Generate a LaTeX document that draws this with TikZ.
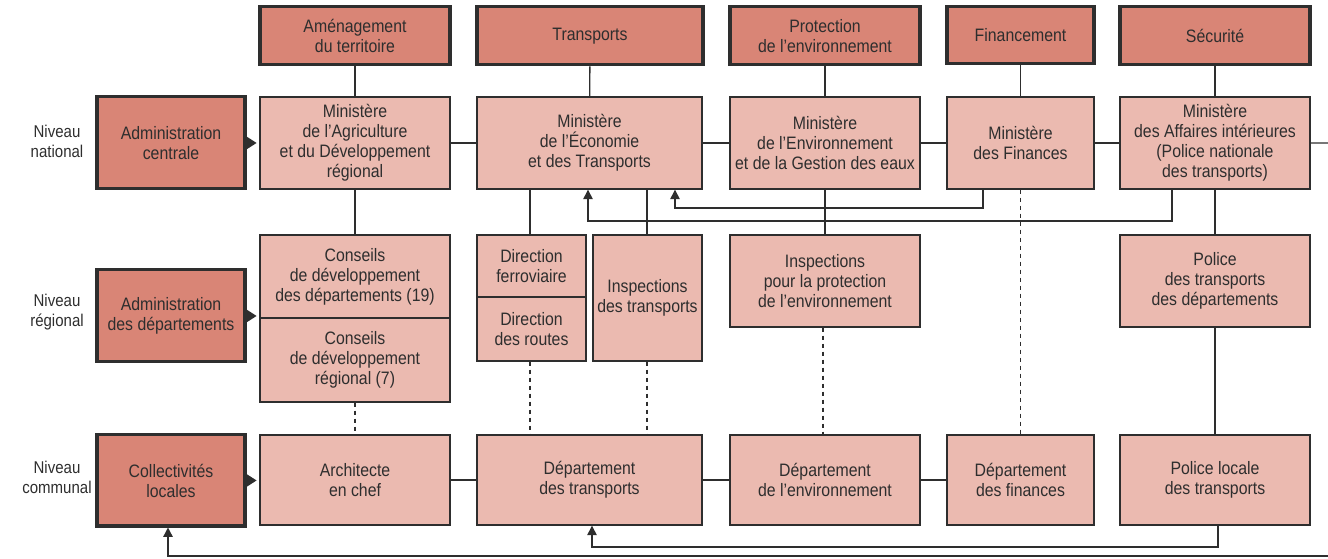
\documentclass[tikz,border=0pt]{standalone}
\usepackage{fontspec}
\setmainfont{Liberation Sans}[FakeStretch=0.88]
\usetikzlibrary{arrows.meta}
\definecolor{dk}{HTML}{D98576}
\definecolor{lt}{HTML}{EBBAB0}
\definecolor{ln}{HTML}{2E2E2E}
\tikzset{
 base/.style={draw=ln, align=center, text=ln, inner sep=0pt, font=\fontsize{13.5}{15}\selectfont},
 lbox/.style={base, fill=lt, line width=1.1pt},
 dbox/.style={base, fill=dk, line width=2.3pt},
 conn/.style={draw=ln, line width=1pt},
 dsh/.style={conn, dash pattern=on 3pt off 3pt},
 arr/.style={conn, -{Triangle[length=7pt,width=7pt]}},
 larr/.style={conn, -{Triangle[length=8pt,width=10pt]}, shorten >=2pt},
 lvl/.style={text=ln, align=center, font=\fontsize{12.8}{15}\selectfont}
}
\newcommand\mkbox[7]{%
 \pgfmathsetmacro\bcx{(#3+#5)/2}\pgfmathsetmacro\bcy{(#4+#6)/2-1.5}%
 \pgfmathsetmacro\bxw{(#5-#3)*0.75}\pgfmathsetmacro\bxh{(#6-#4)*0.75}%
 \node[#1, minimum width=\bxw pt, minimum height=\bxh pt, yshift=-1.1pt] (#2) at (\bcx,\bcy) {#7};}
\begin{document}
\begin{tikzpicture}[x=0.75pt,y=-0.75pt]
\useasboundingbox (0,0) rectangle (1328,559);
% top row
\mkbox{dbox}{amen}{260}{7}{450}{65}{Aménagement\\du territoire}
\mkbox{dbox}{trans}{477}{7}{703}{65}{Transports}
\mkbox{dbox}{prot}{730}{7}{920}{65}{Protection\\de l’environnement}
\mkbox{dbox}{finc}{947}{7}{1094}{64}{Financement}
\mkbox{dbox}{secu}{1120}{7}{1310}{65}{Sécurité}
% left column
\mkbox{dbox}{admc}{97}{97}{245}{189}{Administration\\centrale}
\mkbox{dbox}{admd}{97}{270}{245}{362}{Administration\\des départements}
\mkbox{dbox}{coll}{97}{435}{245}{526}{Collectivités\\locales}
\node[lvl] (lv1) at (57,141) {Niveau\\national};
\node[lvl] (lv2) at (57,312) {Niveau\\régional};
\node[lvl] (lv3) at (57,477) {Niveau\\communal};
% national
\mkbox{lbox}{agri}{260}{97}{450}{189}{Ministère\\de l’Agriculture\\et du Développement\\régional}
\mkbox{lbox}{eco}{477}{97}{702}{189}{Ministère\\de l’Économie\\et des Transports}
\mkbox{lbox}{env}{730}{97}{920}{189}{Ministère\\de l’Environnement\\et de la Gestion des eaux}
\mkbox{lbox}{fin}{947}{97}{1094}{189}{Ministère\\des Finances}
\mkbox{lbox}{aff}{1120}{97}{1310}{189}{Ministère\\des Affaires intérieures\\(Police nationale\\des transports)}
% regional
\mkbox{lbox}{conA}{260}{235}{450}{318}{Conseils\\de développement\\des départements (19)}
\mkbox{lbox}{conB}{260}{318}{450}{402}{Conseils\\de développement\\régional (7)}
\mkbox{lbox}{dirA}{477}{235}{586}{297}{Direction\\ferroviaire}
\mkbox{lbox}{dirB}{477}{297}{586}{361}{Direction\\des routes}
\mkbox{lbox}{insT}{593}{235}{702}{361}{Inspections\\des transports}
\mkbox{lbox}{insE}{730}{235}{920}{327}{Inspections\\pour la protection\\de l’environnement}
\mkbox{lbox}{polD}{1120}{235}{1310}{327}{Police\\des transports\\des départements}
% communal
\mkbox{lbox}{arch}{260}{435}{450}{525}{Architecte\\en chef}
\mkbox{lbox}{depT}{477}{435}{702}{525}{Département\\des transports}
\mkbox{lbox}{depE}{730}{435}{920}{525}{Département\\de l’environnement}
\mkbox{lbox}{depF}{947}{435}{1094}{525}{Département\\des finances}
\mkbox{lbox}{polL}{1120}{435}{1310}{525}{Police locale\\des transports}
\coordinate (edgeA) at (1328,143);
\coordinate (edgeB) at (1328,556);
% top to ministry
\draw[conn] (amen) -- (agri);
\draw[conn] (trans) -- (eco);
\draw[conn] (prot) -- (env);
\draw[conn] (finc) -- (fin);
\draw[conn] (secu) -- (aff);
% horizontal national
\draw[conn] (agri) -- (eco);
\draw[conn] (eco) -- (env);
\draw[conn] (env) -- (fin);
\draw[conn] (fin) -- (aff);
\draw[conn] (aff) -- (edgeA);
% horizontal communal
\draw[conn] (arch.east |- depT.west) -- (depT.west);
\draw[conn] (depT) -- (depE);
\draw[conn] (depE) -- (depF);
% left arrows
\draw[larr] (admc) -- (agri);
\draw[larr] (admd.east) -- (admd.east -| conA.west);
\draw[larr] (coll.east) -- (coll.east -| arch.west);
% verticals
\draw[conn] (agri) -- (conA);
\draw[dsh] (conB) -- (arch);
\draw[conn] (eco.south -| 530,0) -- (dirA.north -| 530,0);
\draw[conn] (eco.south -| 647,0) -- (insT.north -| 647,0);
\draw[dsh] (dirB.south -| 530,0) -- (depT.north -| 530,0);
\draw[dsh] (insT.south -| 647,0) -- (depT.north -| 647,0);
\draw[conn] (env) -- (insE);
\draw[dsh] (insE.south -| 823,0) -- (depE.north -| 823,0);
\draw[dsh] (fin) -- (depF);
\draw[conn] (aff) -- (polD);
\draw[conn] (polD) -- (polL);
% feedback arrows
\draw[arr] (fin.south -| 983,0) |- (675,208) -- (eco.south -| 675,0);
\draw[arr] (aff.south -| 1172,0) |- (588,221) -- (eco.south -| 588,0);
\draw[arr] (polL.south -| 1218,0) |- (592,547) -- (depT.south -| 592,0);
\draw[arr] (edgeB) -| (coll.south -| 168,0);
\end{tikzpicture}
\end{document}
